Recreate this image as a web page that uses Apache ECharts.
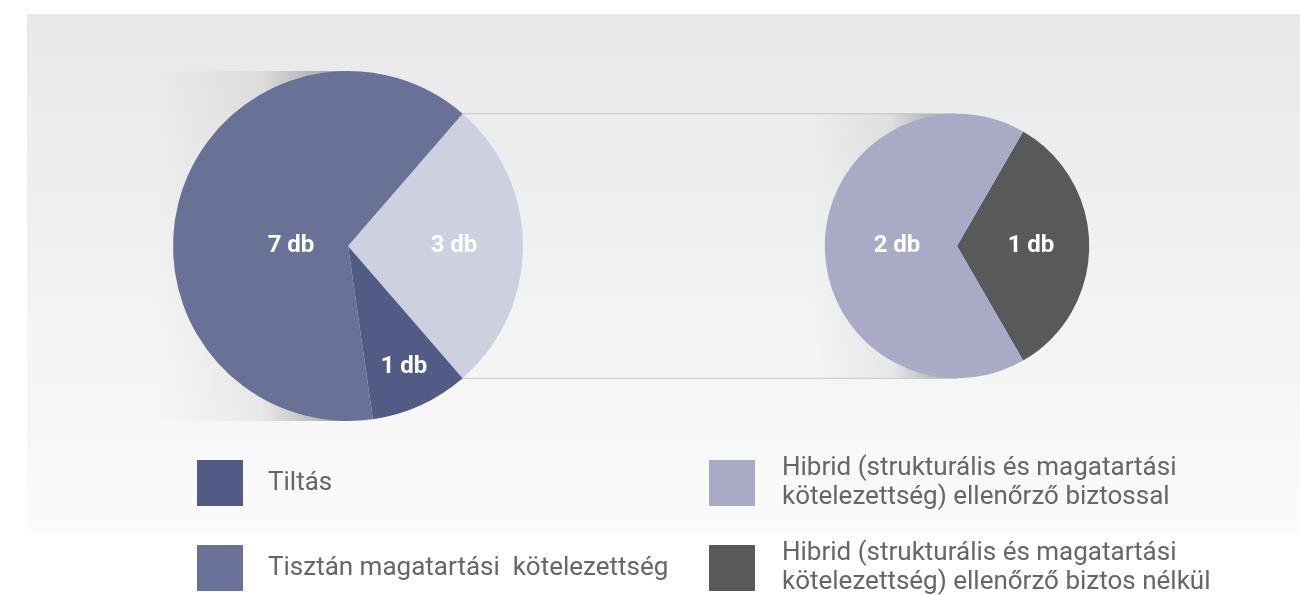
<!DOCTYPE html>
<html>
<head>
<meta charset="utf-8">
<script src="https://cdn.jsdelivr.net/npm/echarts@6/dist/echarts.min.js"></script>
<style>
  html, body { margin: 0; padding: 0; background: #fff; }
  #chart { width: 1300px; height: 595px; }
</style>
</head>
<body>
<div id="chart"></div>
<script>
  // left pie: all cases
  const leftNames = ['Hibrid', 'Tiltás', 'Tisztán magatartási  kötelezettség'];
  const leftValues = [3, 1, 7];
  const leftColors = ['#cdd0de', '#525b84', '#6a7196'];

  // right pie: split of the hybrid slice
  const rightNames = [
    'Hibrid (strukturális és magatartási kötelezettség) ellenőrző biztos nélkül',
    'Hibrid (strukturális és magatartási kötelezettség) ellenőrző biztossal'
  ];
  const rightValues = [1, 2];
  const rightColors = ['#58595b', '#a9abc6'];

  const unit = ' db';

  const chart = echarts.init(document.getElementById('chart'));

  // layout
  const cx1 = 348, cy1 = 246, r1 = 175;
  const cx2 = 957, cy2 = 246;
  const total = leftValues.reduce((a, b) => a + b, 0);
  const halfAngle = leftValues[0] / total * 180;          // hybrid slice centred on the right
  const rad = halfAngle * Math.PI / 180;
  const r2 = r1 * Math.sin(rad);                          // small pie fits between the connectors
  const halfAngle2 = rightValues[0] / (rightValues[0] + rightValues[1]) * 180;

  // label offsets from pie centre
  const leftLabelPos = [[106, 0], [56, 121], [-57, 0]];
  const rightLabelPos = [[74, 0], [-60, 0]];

  function shadow(cx, cy, r) {
    return {
      type: 'rect',
      shape: { x: cx - r * 1.1, y: cy - r, width: r * 1.1, height: 2 * r },
      style: {
        fill: new echarts.graphic.LinearGradient(0, 0, 1, 0, [
          { offset: 0, color: 'rgba(0,0,0,0)' },
          { offset: 0.55, color: 'rgba(0,0,0,0.06)' },
          { offset: 1, color: 'rgba(0,0,0,0.35)' }
        ])
      }
    };
  }

  const legendText = {
    color: '#666',
    fontFamily: 'Roboto',
    fontSize: 26,
    lineHeight: 29
  };

  const pieLabel = {
    show: true,
    position: 'inside',
    formatter: p => p.value + unit,
    color: '#fff',
    fontFamily: 'Roboto',
    fontWeight: 'bold',
    fontSize: 24
  };

  chart.setOption({
    animation: false,
    backgroundColor: '#fff',
    graphic: [
      {
        type: 'rect',
        z: -10,
        shape: { x: 27, y: 14, width: 1273, height: 519 },
        style: {
          fill: new echarts.graphic.LinearGradient(0, 0, 0, 1, [
            { offset: 0, color: '#e8e8e8' },
            { offset: 1, color: '#fbfbfb' }
          ])
        }
      },
      shadow(cx1, cy1, r1),
      shadow(cx2, cy2, r2),
      {
        type: 'line',
        shape: { x1: cx1 + r1 * Math.cos(rad), y1: cy1 - r1 * Math.sin(rad), x2: cx2, y2: cy2 - r2 },
        style: { stroke: '#c4c4c4', lineWidth: 1 }
      },
      {
        type: 'line',
        shape: { x1: cx1 + r1 * Math.cos(rad), y1: cy1 + r1 * Math.sin(rad), x2: cx2, y2: cy2 + r2 },
        style: { stroke: '#c4c4c4', lineWidth: 1 }
      }
    ],
    legend: [
      {
        orient: 'vertical',
        left: 197,
        top: 460,
        height: 300,
        padding: 0,
        itemWidth: 46,
        itemHeight: 46,
        itemGap: 39,
        icon: 'rect',
        selectedMode: false,
        data: [leftNames[1], leftNames[2]],
        textStyle: Object.assign({ padding: [0, 0, 0, 20] }, legendText)
      },
      {
        orient: 'vertical',
        left: 709,
        top: 454,
        height: 300,
        padding: 0,
        itemWidth: 46,
        itemHeight: 46,
        itemGap: 27,
        icon: 'rect',
        selectedMode: false,
        data: [rightNames[1], rightNames[0]],
        formatter: function (name) {
          return name.replace(' kötelezettség)', '\nkötelezettség)');
        },
        textStyle: Object.assign({ padding: [0, 0, 0, 22] }, legendText)
      }
    ],
    series: [
      {
        type: 'pie',
        center: [cx1, cy1],
        radius: r1,
        startAngle: halfAngle,
        clockwise: true,
        emphasis: { disabled: true },
        label: pieLabel,
        labelLine: { show: false },
        labelLayout: p => ({ x: cx1 + leftLabelPos[p.dataIndex][0], y: cy1 + leftLabelPos[p.dataIndex][1] }),
        data: leftNames.map((n, i) => ({ name: n, value: leftValues[i], itemStyle: { color: leftColors[i] } }))
      },
      {
        type: 'pie',
        center: [cx2, cy2],
        radius: r2,
        startAngle: halfAngle2,
        clockwise: true,
        emphasis: { disabled: true },
        label: pieLabel,
        labelLine: { show: false },
        labelLayout: p => ({ x: cx2 + rightLabelPos[p.dataIndex][0], y: cy2 + rightLabelPos[p.dataIndex][1] }),
        data: rightNames.map((n, i) => ({ name: n, value: rightValues[i], itemStyle: { color: rightColors[i] } }))
      }
    ]
  });
</script>
</body>
</html>
